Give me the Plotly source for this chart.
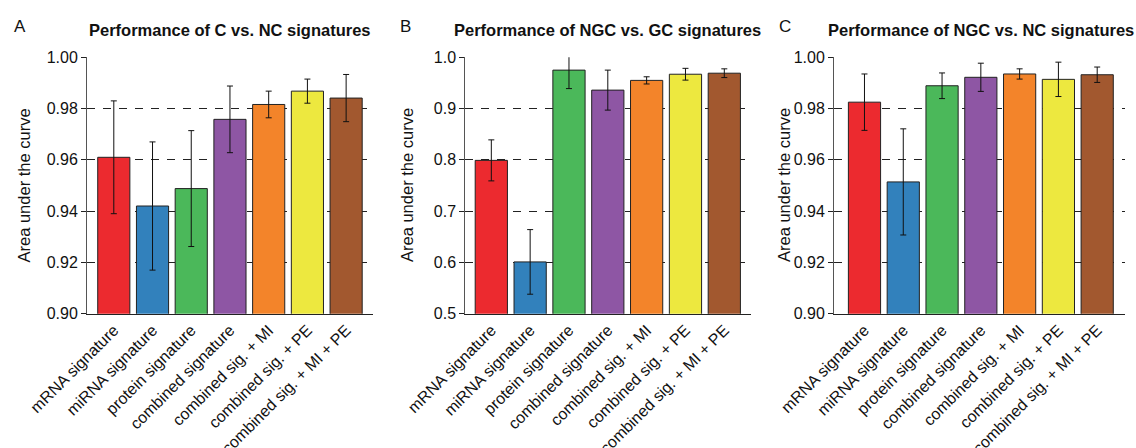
import plotly.graph_objects as go

W, H = 1136, 448

categories = ["mRNA signature", "miRNA signature", "protein signature",
              "combined signature", "combined sig. + MI", "combined sig. + PE",
              "combined sig. + MI + PE"]
colors = ["#EC2A2F", "#3281BC", "#4BB85A", "#8E56A4", "#F3842A", "#EDE83F", "#A2582F"]

titles = ["Performance of C vs. NC signatures",
          "Performance of NGC vs. GC signatures",
          "Performance of NGC vs. NC signatures"]
panel_letters = ["A", "B", "C"]

auc_A = [0.961, 0.942, 0.9488, 0.9758, 0.9816, 0.9868, 0.9841]
err_A = [0.022, 0.025, 0.0226, 0.013, 0.0052, 0.0047, 0.0092]

auc_B = [0.799, 0.601, 0.975, 0.936, 0.955, 0.967, 0.969]
err_B = [0.040, 0.063, 0.036, 0.039, 0.007, 0.0115, 0.0085]

auc_C = [0.9825, 0.9514, 0.9889, 0.9922, 0.9935, 0.9914, 0.9932]
err_C = [0.011, 0.0207, 0.005, 0.0055, 0.002, 0.0067, 0.003]

y_ticks_A = [0.90, 0.92, 0.94, 0.96, 0.98, 1.00]
y_ticks_B = [0.5, 0.6, 0.7, 0.8, 0.9, 1.0]
y_ticks_C = [0.90, 0.92, 0.94, 0.96, 0.98, 1.00]

FONT = "Liberation Sans, Arial, Helvetica, sans-serif"


def px_x(p):
    return p / W


def px_y(p):
    return 1 - p / H


panels = [
    dict(auc=auc_A, err=err_A, ticks=y_ticks_A, fmt=".2f", yr=[0.90, 1.00],
         left=87, right=373, xr=[-0.692, 6.694], title_x=230, letter_x=12, ytitle_x=23),
    dict(auc=auc_B, err=err_B, ticks=y_ticks_B, fmt=".1f", yr=[0.5, 1.0],
         left=465.3, right=750.7, xr=[-0.67, 6.68], title_x=607, letter_x=398, ytitle_x=406.5),
    dict(auc=auc_C, err=err_C, ticks=y_ticks_C, fmt=".2f", yr=[0.90, 1.00],
         left=834, right=1125, xr=[-0.786, 6.717], title_x=980.5, letter_x=777, ytitle_x=783.5),
]

top_px, bot_px = 57.3, 313.7

fig = go.Figure()
layout = dict(
    width=W, height=H,
    margin=dict(l=0, r=0, t=0, b=0),
    paper_bgcolor="white", plot_bgcolor="white",
    showlegend=False,
    font=dict(family=FONT, size=16, color="#111"),
    annotations=[],
)

for i, p in enumerate(panels):
    sfx = "" if i == 0 else str(i + 1)
    fig.add_trace(go.Bar(
        x=categories, y=p["auc"],
        marker=dict(color=colors, line=dict(color="#222", width=1)),
        width=0.83,
        error_y=dict(type="data", array=p["err"], visible=True,
                     color="#111", thickness=1, width=3),
        xaxis="x" + sfx, yaxis="y" + sfx,
    ))
    layout["xaxis" + sfx] = dict(
        domain=[px_x(p["left"]), px_x(p["right"])],
        anchor="y" + sfx,
        type="category",
        categoryorder="array", categoryarray=categories,
        range=p["xr"],
        showline=True, linecolor="#222", linewidth=1,
        ticks="", tickangle=-45,
        tickfont=dict(family=FONT, size=16, color="#111"),
        showgrid=False, zeroline=False, automargin=False,
    )
    layout["yaxis" + sfx] = dict(
        domain=[px_y(bot_px), px_y(top_px)],
        anchor="x" + sfx,
        range=p["yr"],
        tickmode="array", tickvals=p["ticks"],
        tickformat=p["fmt"],
        showline=True, linecolor="#555", linewidth=1,
        ticks="outside", ticklen=5, tickcolor="#222",
        tickfont=dict(family=FONT, size=16, color="#111"),
        showgrid=True, gridcolor="#222", gridwidth=1, griddash="8px,8px",
        zeroline=False, automargin=False,
    )
    layout["annotations"].append(dict(
        text="<b>" + titles[i] + "</b>", xref="paper", yref="paper",
        x=px_x(p["title_x"]), y=px_y(29.5), xanchor="center", yanchor="middle",
        showarrow=False, font=dict(family=FONT, size=16.5, color="#111"),
    ))
    layout["annotations"].append(dict(
        text=panel_letters[i], xref="paper", yref="paper",
        x=px_x(p["letter_x"]), y=px_y(26), xanchor="left", yanchor="middle",
        showarrow=False, font=dict(family=FONT, size=17, color="#111"),
    ))
    layout["annotations"].append(dict(
        text="Area under the curve", xref="paper", yref="paper",
        x=px_x(p["ytitle_x"]), y=px_y((top_px + bot_px) / 2),
        xanchor="center", yanchor="middle", textangle=-90,
        showarrow=False, font=dict(family=FONT, size=16.5, color="#111"),
    ))

fig.update_layout(**layout)
fig.write_html("out.html")
